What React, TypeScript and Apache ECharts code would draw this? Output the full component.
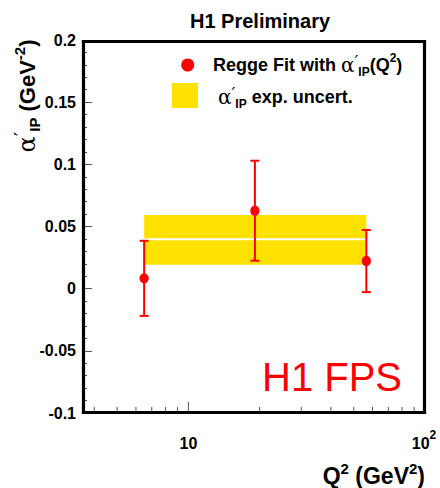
import React, { useEffect, useRef } from "react";
import * as echarts from "echarts";

// ---- data ----
const Q2 = [6.5, 19.1, 56.5];
const ALPHA = [0.0083, 0.0627, 0.0222];
const ALPHA_ERR = [0.0302, 0.0402, 0.025];
const BAND_LOW = 0.0192;
const BAND_HIGH = 0.0592;
const BAND_CENTRAL = 0.0397;

const X_MIN = 3.55;
const X_MAX = 100;
const Y_MIN = -0.1;
const Y_MAX = 0.2;
const Y_STEP = 0.05;
const X_TICKS = [4, 5, 6, 7, 8, 9, 10, 20, 30, 40, 50, 60, 70, 80, 90, 100];
const X_MAJOR = [10, 100];
const X_LABEL_VALUES = [10, 100];
const X_LABEL_BASE = ["10", "10"];
const X_LABEL_EXP = ["", "2"];

const FONT = "'Liberation Sans', Arial, Helvetica, sans-serif";
const SERIF = "'DejaVu Serif', 'Liberation Serif', serif";
const RED = "#ff0000";
const YELLOW = "#ffe100";

export default function App() {
  const ref = useRef<HTMLDivElement>(null);

  useEffect(() => {
    if (!ref.current) return;
    const chart = echarts.init(ref.current, undefined, { renderer: "svg" });

    const option: any = {
      animation: false,
      backgroundColor: "#fff",
      grid: {
        left: 82,
        right: 15,
        top: 40,
        bottom: 75,
        show: false,
      },
      xAxis: {
        type: "log",
        logBase: 10,
        min: X_MIN,
        max: X_MAX,
        axisLine: { show: false },
        axisTick: { show: false },
        axisLabel: { show: false },
        splitLine: { show: false },
      },
      yAxis: {
        type: "value",
        min: Y_MIN,
        max: Y_MAX,
        interval: Y_STEP,
        axisLine: { show: false },
        axisTick: { show: true, inside: true, length: 10, lineStyle: { color: "#555", width: 1 } },
        minorTick: { show: true, splitNumber: 5, length: 5, lineStyle: { color: "#555", width: 1 } },
        axisLabel: {
          color: "#000",
          fontSize: 16,
          fontWeight: "bold",
          fontFamily: FONT,
          margin: 6,
        },
        splitLine: { show: false },
      },
      series: [
        {
          type: "custom",
          name: "band",
          silent: true,
          z: 1,
          data: [[Q2[0], BAND_LOW, Q2[Q2.length - 1], BAND_HIGH, BAND_CENTRAL]],
          renderItem: (params: any, api: any) => {
            const p0 = api.coord([api.value(0), api.value(3)]);
            const p1 = api.coord([api.value(2), api.value(1)]);
            const pc0 = api.coord([api.value(0), api.value(4)]);
            const pc1 = api.coord([api.value(2), api.value(4)]);
            return {
              type: "group",
              children: [
                {
                  type: "rect",
                  shape: { x: p0[0], y: p0[1], width: p1[0] - p0[0], height: p1[1] - p0[1] },
                  style: { fill: YELLOW },
                },
                {
                  type: "line",
                  shape: { x1: pc0[0], y1: pc0[1], x2: pc1[0], y2: pc1[1] },
                  style: { stroke: "#fff", lineWidth: 2 },
                },
              ],
            };
          },
        },
        {
          type: "custom",
          name: "points",
          z: 3,
          data: Q2.map((q, i) => [q, ALPHA[i], ALPHA_ERR[i]]),
          renderItem: (params: any, api: any) => {
            const x = api.value(0);
            const y = api.value(1);
            const e = api.value(2);
            const p = api.coord([x, y]);
            const t = api.coord([x, y + e]);
            const b = api.coord([x, y - e]);
            const cap = 4.5;
            const st = { stroke: RED, lineWidth: 2 };
            return {
              type: "group",
              children: [
                { type: "line", shape: { x1: t[0], y1: t[1], x2: b[0], y2: b[1] }, style: st },
                { type: "line", shape: { x1: t[0] - cap, y1: t[1], x2: t[0] + cap, y2: t[1] }, style: st },
                { type: "line", shape: { x1: b[0] - cap, y1: b[1], x2: b[0] + cap, y2: b[1] }, style: st },
                { type: "ellipse", shape: { cx: p[0], cy: p[1], rx: 4.6, ry: 5.2 }, style: { fill: RED } },
              ],
            };
          },
        },
        {
          type: "custom",
          name: "xticks",
          silent: true,
          z: 4,
          clip: false,
          data: X_TICKS.map((v) => [v, Y_MIN]),
          renderItem: (params: any, api: any) => {
            const v = api.value(0);
            const p = api.coord([v, Y_MIN]);
            const len = X_MAJOR.indexOf(v) >= 0 ? 11 : 6;
            return {
              type: "line",
              shape: { x1: p[0], y1: p[1], x2: p[0], y2: p[1] - len },
              style: { stroke: "#555", lineWidth: 1 },
            };
          },
        },
        {
          type: "custom",
          name: "frame",
          silent: true,
          z: 5,
          clip: false,
          data: [[X_MIN, Y_MAX, X_MAX, Y_MIN]],
          renderItem: (params: any, api: any) => {
            const a = api.coord([api.value(0), api.value(1)]);
            const b = api.coord([api.value(2), api.value(3)]);
            const st = { stroke: "#000", lineWidth: 3.2, lineCap: "square" };
            const x0 = a[0] + 1.5, y0 = a[1] + 1.5, x1 = b[0] - 0.5, y1 = b[1] - 0.5;
            return {
              type: "group",
              children: [
                { type: "line", shape: { x1: x0, y1: y0, x2: x1, y2: y0 }, style: st },
                { type: "line", shape: { x1: x1, y1: y0, x2: x1, y2: y1 }, style: st },
                { type: "line", shape: { x1: x1, y1: y1, x2: x0, y2: y1 }, style: st },
                { type: "line", shape: { x1: x0, y1: y1, x2: x0, y2: y0 }, style: st },
              ],
            };
          },
        },
        {
          type: "custom",
          name: "xlabels",
          silent: true,
          z: 4,
          clip: false,
          data: X_LABEL_VALUES.map((v) => [v, Y_MIN]),
          renderItem: (params: any, api: any) => {
            const i = params.dataIndex;
            const p = api.coord([api.value(0), Y_MIN]);
            const exp = X_LABEL_EXP[i];
            return {
              type: "text",
              x: p[0] + (exp ? -1 : 0),
              y: p[1] + 27,
              style: {
                text: exp ? `{b|${X_LABEL_BASE[i]}}{s|${exp}}` : `{b|${X_LABEL_BASE[i]}}`,
                align: "center",
                verticalAlign: "middle",
                rich: {
                  b: { fontSize: 16, fontWeight: "bold", fontFamily: FONT, fill: "#000", color: "#000", lineHeight: 22, verticalAlign: "bottom" },
                  s: { fontSize: 12, fontWeight: "bold", fontFamily: FONT, fill: "#000", color: "#000", lineHeight: 22, verticalAlign: "top" },
                },
              },
            };
          },
        },
      ],
      graphic: [
        {
          type: "text",
          left: 190,
          top: 11,
          style: {
            text: "H1 Preliminary",
            font: `bold 20px ${FONT}`,
            fill: "#000",
          },
        },
        // legend
        {
          type: "circle",
          shape: { cx: 187.7, cy: 65, r: 6.5 },
          style: { fill: RED },
        },
        {
          type: "text",
          x: 213,
          y: 65,
          style: {
            text: "{n|Regge Fit with }{a|α}{p|′}{sub|IP}{n|(Q}{sup|2}{n|)}",
            verticalAlign: "middle",
            align: "left",
            rich: {
              n: { fontSize: 18, fontWeight: "bold", fontFamily: FONT, fill: "#000", lineHeight: 26, verticalAlign: "middle" },
              a: { fontSize: 20, fontFamily: SERIF, fill: "#000", lineHeight: 26, verticalAlign: "middle" },
              p: { fontSize: 17, fontFamily: SERIF, fill: "#000", lineHeight: 26, verticalAlign: "top" },
              sub: { fontSize: 12, fontWeight: "bold", fontFamily: FONT, fill: "#000", lineHeight: 26, verticalAlign: "bottom" },
              sup: { fontSize: 12, fontWeight: "bold", fontFamily: FONT, fill: "#000", lineHeight: 26, verticalAlign: "top" },
            },
          },
        },
        {
          type: "rect",
          shape: { x: 172, y: 83, width: 26, height: 25 },
          style: { fill: YELLOW },
        },
        {
          type: "text",
          x: 218,
          y: 97,
          style: {
            text: "{a|α}{p|′}{sub|IP}{n| exp. uncert.}",
            verticalAlign: "middle",
            align: "left",
            rich: {
              n: { fontSize: 18, fontWeight: "bold", fontFamily: FONT, fill: "#000", lineHeight: 26, verticalAlign: "middle" },
              a: { fontSize: 20, fontFamily: SERIF, fill: "#000", lineHeight: 26, verticalAlign: "middle" },
              p: { fontSize: 17, fontFamily: SERIF, fill: "#000", lineHeight: 26, verticalAlign: "top" },
              sub: { fontSize: 12, fontWeight: "bold", fontFamily: FONT, fill: "#000", lineHeight: 26, verticalAlign: "bottom" },
            },
          },
        },
        // y axis title
        {
          type: "text",
          x: 27,
          y: 96,
          rotation: Math.PI / 2,
          style: {
            text: "{a|α}{p|′}{sub|IP}{n| (GeV}{sup|-2}{n|)}",
            align: "center",
            verticalAlign: "middle",
            rich: {
              n: { fontSize: 22, fontWeight: "bold", fontFamily: FONT, fill: "#000", lineHeight: 30, verticalAlign: "middle" },
              a: { fontSize: 24, fontFamily: SERIF, fill: "#000", lineHeight: 30, verticalAlign: "middle" },
              p: { fontSize: 20, fontFamily: SERIF, fill: "#000", lineHeight: 30, verticalAlign: "top" },
              sub: { fontSize: 15, fontWeight: "bold", fontFamily: FONT, fill: "#000", lineHeight: 30, verticalAlign: "bottom" },
              sup: { fontSize: 15, fontWeight: "bold", fontFamily: FONT, fill: "#000", lineHeight: 30, verticalAlign: "top" },
            },
          },
        },
        // x axis title
        {
          type: "text",
          x: 425,
          y: 476,
          style: {
            text: "{n|Q}{sup|2}{n| (GeV}{sup|2}{n|)}",
            align: "right",
            verticalAlign: "middle",
            rich: {
              n: { fontSize: 23, fontWeight: "bold", fontFamily: FONT, fill: "#000", lineHeight: 30, verticalAlign: "middle" },
              sup: { fontSize: 15, fontWeight: "bold", fontFamily: FONT, fill: "#000", lineHeight: 30, verticalAlign: "top" },
            },
          },
        },
        // H1 FPS
        {
          type: "text",
          x: 262,
          y: 377,
          style: {
            text: "H1 FPS",
            font: `40px ${FONT}`,
            fill: RED,
            verticalAlign: "middle",
            align: "left",
          },
        },
      ],
    };

    chart.setOption(option);
    return () => chart.dispose();
  }, []);

  return (
    <div
      ref={ref}
      style={{ position: "fixed", left: 0, top: 0, width: 440, height: 488 }}
    />
  );
}
